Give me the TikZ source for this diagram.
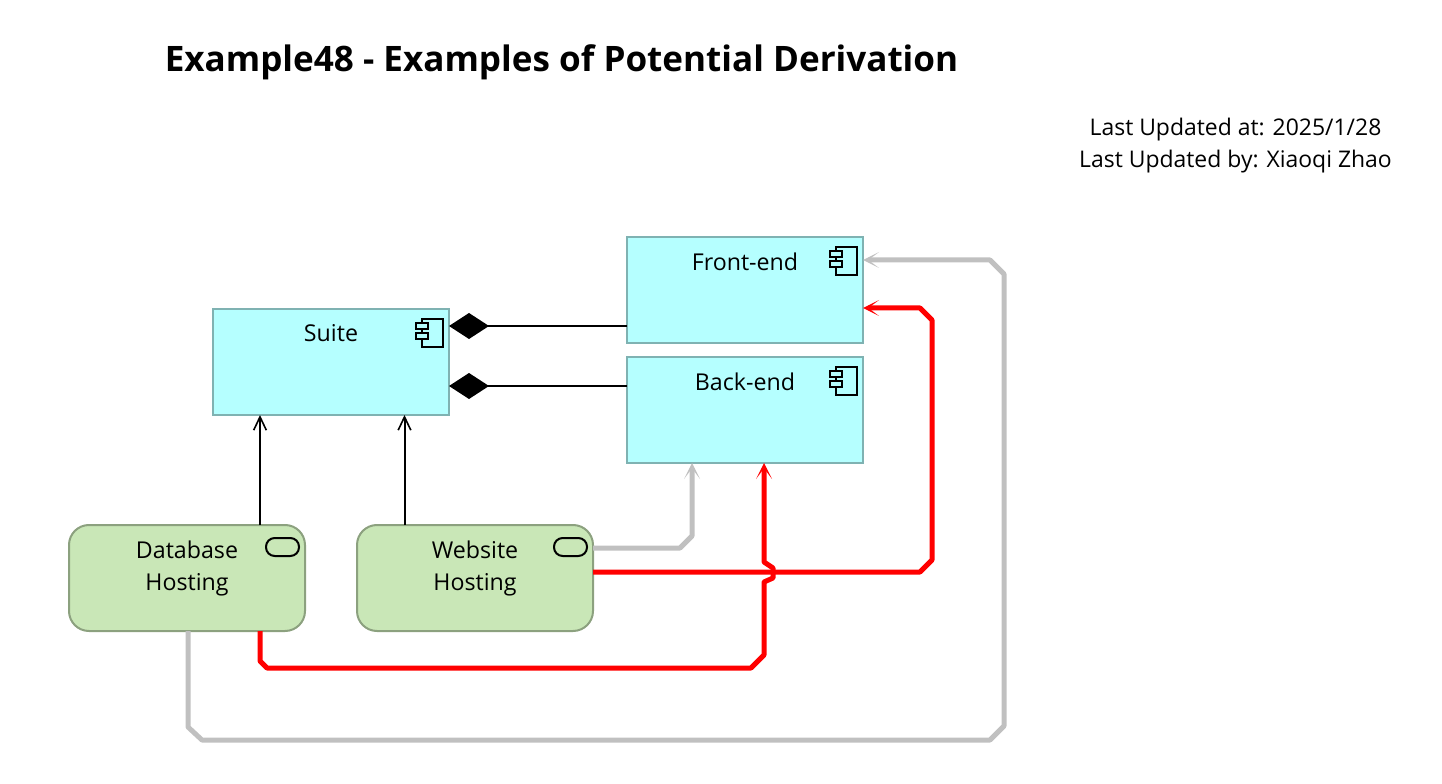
\documentclass[tikz,border=0pt]{standalone}
\usepackage{fontspec}
\setmainfont{Open Sans}
\usetikzlibrary{arrows.meta,calc}

\definecolor{compfill}{HTML}{B5FFFF}
\definecolor{compline}{HTML}{7FB2B2}
\definecolor{servfill}{HTML}{C9E7B7}
\definecolor{servline}{HTML}{8CA17F}
\definecolor{derived}{HTML}{C0C0C0}

\tikzstyle{box}=[draw,line width=1.5pt,inner sep=0pt,outer sep=0pt,minimum width=177pt,minimum height=79.5pt]
\tikzstyle{comp}=[box,draw=compline,fill=compfill]
\tikzstyle{serv}=[box,draw=servline,fill=servfill,rounded corners=15pt]
\tikzstyle{boxtext}=[font=\fontsize{17.4}{24}\selectfont,align=center,anchor=north,inner sep=0pt,yshift=-11.5pt]
\tikzstyle{assign}=[line width=1.5pt,-{Straight Barb[length=10pt,width=9.5pt,line width=1.2pt]}]
\tikzstyle{whole}=[line width=1.5pt,-{Diamond[length=30pt,width=19.5pt,line width=0pt]}]
\tikzstyle{potential}=[line width=3.75pt,line join=round,-{Stealth[length=12pt,width=12pt,inset=8pt,line width=0pt]}]
\tikzstyle{redline}=[potential,color=red]
\tikzstyle{greyline}=[potential,color=derived]

\tikzset{
	compicon/.pic={
		\draw[line width=1.5pt,fill=compfill] (-27,10) rectangle (-6,38);
		\draw[line width=1.5pt,fill=compfill] (-33,14) rectangle (-21,20);
		\draw[line width=1.5pt,fill=compfill] (-33,24) rectangle (-21,30);
	},
	servicon/.pic={
		\draw[line width=1.5pt,rounded corners=6.5pt] (-39,13) rectangle (-6,31);
	}
}

\begin{document}
\begin{tikzpicture}[x=0.75pt,y=-0.75pt]

\useasboundingbox (0,0) rectangle (1442,784);

% TITLE
\node (title) at (561.5,62.5) {\fontsize{26.3}{30}\selectfont\bfseries Example48 - Examples of Potential Derivation};
\node[font=\fontsize{17.2}{24}\selectfont,align=center] (updated) at (1235.5,146) {Last Updated at: 2025/1/28\\Last Updated by: Xiaoqi Zhao};

% COMPONENTS
\node[comp,label={[boxtext]north:Suite}] (suite) at (331,362) {};
\node[comp,label={[boxtext]north:Front-end}] (front) at (745,290) {};
\node[comp,label={[boxtext]north:Back-end}] (back) at (745,410) {};

% SERVICES
\node[serv,label={[boxtext]north:Database\\Hosting}] (db) at (187,578) {};
\node[serv,label={[boxtext]north:Website\\Hosting}] (web) at (475,578) {};

% ICONS
\pic at (suite.north east) {compicon};
\pic at (front.north east) {compicon};
\pic at (back.north east) {compicon};
\pic at (db.north east) {servicon};
\pic at (web.north east) {servicon};

% COMPOSITION
\draw[whole] ($(front.south west)+(0,-17)$) -- ($(suite.north east)+(0,17)$);
\draw[whole] ($(back.north west)+(0,29)$) -- ($(suite.north east)+(0,77)$);

% ASSIGNMENT
\draw[assign] ($(db.north west)+(191,0)$) -- ($(suite.south west)+(47,0)$);
\draw[assign] ($(web.north west)+(47.5,0)$) -- ($(suite.south west)+(191.5,0)$);

% DERIVED, GREY
\draw[greyline] ($(web.north east)+(0,23)$) -- ++(87,0) -- ++(12,-12) -- ($(back.south west)+(65,0)$);
\draw[greyline] ($(db.south)+(1,0)$) -- ++(0,96) -- ++(14,13) -- ++(788,0) -- ++(14,-14) -- ++(0,-452) -- ++(-14,-14) -- ($(front.north east)+(0,23)$);

% DERIVED, RED
\draw[redline] ($(web.north east)+(0,47)$) -- ++(327,0) -- ++(12,-12) -- ++(0,-240) -- ++(-12,-12) -- ($(front.south east)+(0,-35)$);
\draw[redline] ($(db.south west)+(191,0)$) -- ++(0,30) -- ++(7,7) -- ++(484,0) -- ++(13,-13) -- ++(0,-73) -- ++(9,-4) -- ++(0,-10) -- ++(-9,-6) -- ($(back.south west)+(137,0)$);

\end{tikzpicture}
\end{document}
